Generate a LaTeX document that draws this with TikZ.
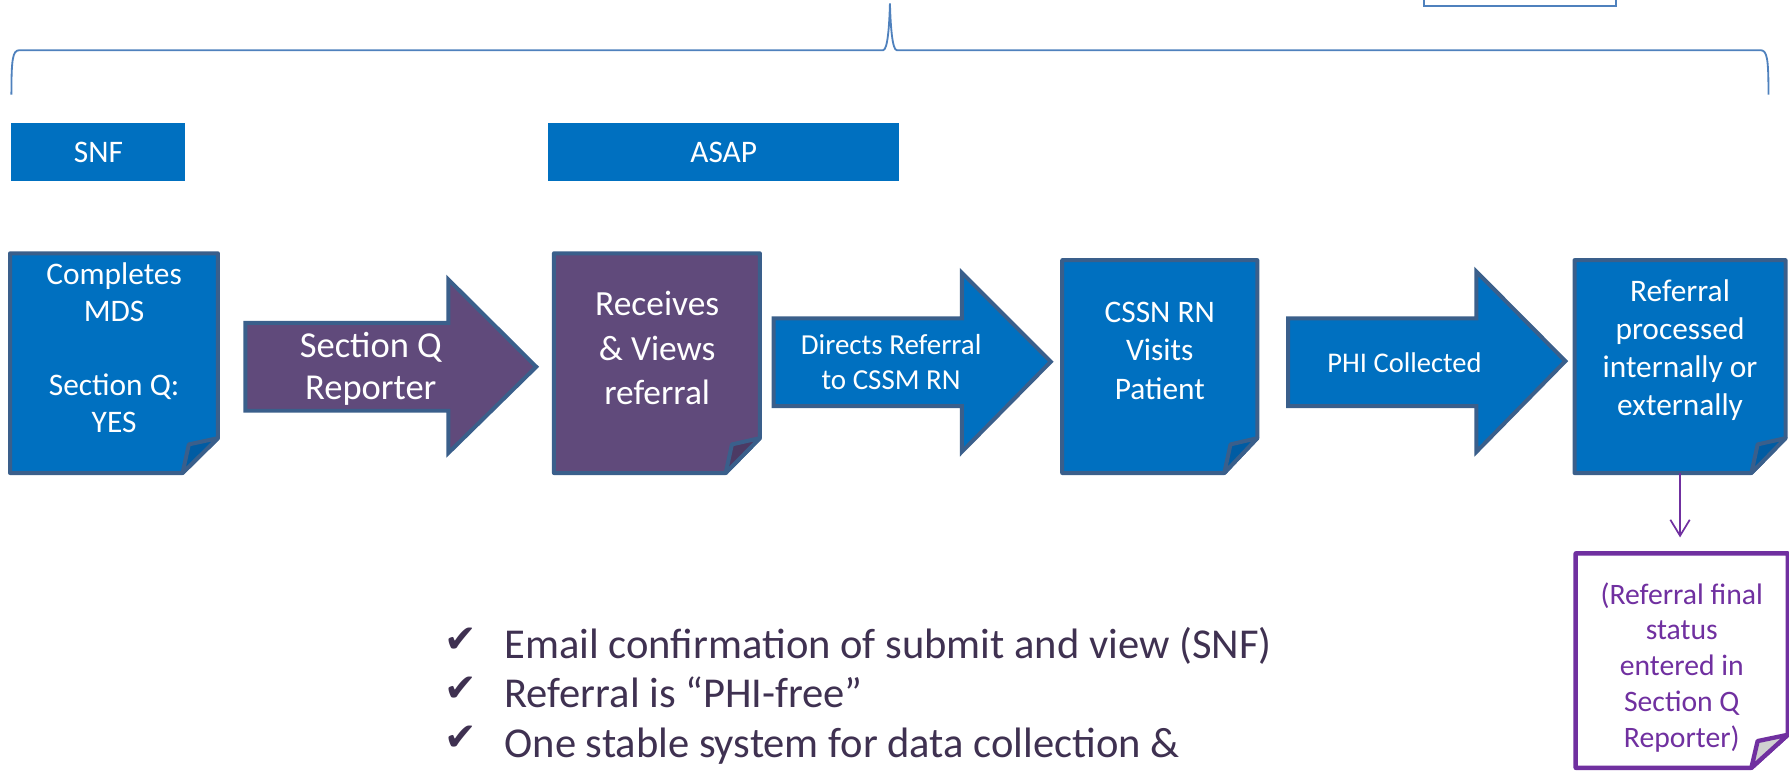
\documentclass[tikz,border=0pt]{standalone}
\usepackage{fontspec}
\setmainfont{Carlito}
\newfontfamily\symfont{DejaVu Sans}
\usetikzlibrary{arrows.meta,backgrounds}
\definecolor{fillblue}{HTML}{0070C0}
\definecolor{edgeblue}{HTML}{3A5F8B}
\definecolor{flapblue}{HTML}{005CA3}
\definecolor{fillpurple}{HTML}{604A7B}
\definecolor{flappurple}{HTML}{4C3A64}
\definecolor{notepurple}{HTML}{7030A0}
\definecolor{flapgray}{HTML}{D0D0D0}
\definecolor{bracecol}{HTML}{4F81BD}
\definecolor{bullettext}{HTML}{3F3151}
\newcommand\docshape[5]{%
  \path[docline,fill=#2] (#1.north west) -- (#1.north east) -- ([yshift=#5pt]#1.south east) -- ([xshift=-#4pt]#1.south east) -- (#1.south west) -- cycle;
  \path[docline,fill=#3] ([yshift=#5pt]#1.south east) -- ([xshift=-#4pt+5.5pt,yshift=#5pt-5.5pt]#1.south east) -- ([xshift=-#4pt]#1.south east) -- cycle;}
\newcommand\blockarrow[8]{% fill, shaft left, shaft top, shaft bottom, head base x, head top, head bottom, tip
  \path[arrowline,fill=#1] (#2,#3) -- (#5,#3) -- (#5,#6) -- #8 -- (#5,#7) -- (#5,#4) -- (#2,#4) -- cycle;}
\begin{document}
\begin{tikzpicture}[x=1pt,y=-1pt,
  geom/.style={rectangle,draw=none,inner sep=0pt,outer sep=0pt},
  docline/.style={draw=edgeblue,line width=3.5pt,line join=round},
  arrowline/.style={draw=edgeblue,line width=3.5pt,line join=miter},
  wtext/.style={text=white,align=center,inner sep=0pt},
  labelbox/.style={geom,fill=fillblue,text=white,font=\fontsize{27.5}{33}\selectfont},
  bullet/.style={anchor=base west,inner sep=0pt,text=bullettext,font=\fontsize{37.3}{43}\selectfont},
  checkmk/.style={anchor=base,inner sep=0pt,text=bullettext,font=\symfont\fontsize{34}{40}\selectfont}]
\useasboundingbox (0,0) rectangle (1568,675);

% top brace
\draw[bracecol,line width=1.6pt]
  (10,83) .. controls (10,52) and (11,44) .. (17,44) -- (774,44)
  .. controls (778,44) and (779.5,22) .. (780,3)
  .. controls (780.5,22) and (782,44) .. (786,44) -- (1543,44)
  .. controls (1549,44) and (1550,52) .. (1550,83);
% partial box at top right
\draw[bracecol,line width=1.6pt] (1248,-6) rectangle (1416,5);

% header labels
\node[labelbox,minimum width=152.5pt,minimum height=51pt] (snf) at (86.3,133.5) {SNF};
\node[labelbox,minimum width=307.5pt,minimum height=51pt] (asap) at (634.3,133.5) {ASAP};

% document nodes (geometry)
\node[geom,minimum width=182.2pt,minimum height=192.6pt] (d1) at (99.9,318.3) {};
\node[geom,minimum width=180.5pt,minimum height=192.6pt] (d2) at (575.75,318.3) {};
\node[geom,minimum width=171pt,minimum height=186.6pt] (d3) at (1016.5,321.3) {};
\node[geom,minimum width=185pt,minimum height=186.6pt] (d4) at (1472.5,321.3) {};
\node[geom,minimum width=186pt,minimum height=188pt] (fin) at (1474,579) {};

\begin{pgfonlayer}{background}
\docshape{d1}{fillblue}{flapblue}{31}{30.6}
\docshape{d2}{fillpurple}{flappurple}{30}{30.6}
\docshape{d3}{fillblue}{flapblue}{29}{30.6}
\docshape{d4}{fillblue}{flapblue}{30}{30.6}
\begin{scope}[docline/.style={draw=notepurple,line width=3.8pt,line join=round}]
\docshape{fin}{white}{flapgray}{32}{29}
\end{scope}
\blockarrow{fillpurple}{215}{283}{360}{393}{245}{397}{(470,321.5)}
\blockarrow{fillblue}{678}{279}{356}{843}{239}{396}{(921,317)}
\blockarrow{fillblue}{1129}{279}{356}{1294}{238}{396}{(1372,316.5)}
\end{pgfonlayer}

% texts
\node[wtext,font=\fontsize{27.5}{32.5}\selectfont] (t1) at (100,305) {Completes\\MDS\\[32.5pt]Section Q:\\YES};
\node[wtext,font=\fontsize{32}{37}\selectfont] (a1) at (325,323.5) {Section Q\\Reporter};
\node[wtext,font=\fontsize{31}{39}\selectfont] (t2) at (576,305) {Receives\\\& Views\\referral};
\node[wtext,font=\fontsize{25.4}{31}\selectfont] (a2) at (781,317.5) {Directs Referral\\to CSSM RN};
\node[wtext,font=\fontsize{27.5}{33.5}\selectfont] (t3) at (1016.5,307.5) {CSSN RN\\Visits\\Patient};
\node[wtext,font=\fontsize{25}{30}\selectfont] (a3) at (1231,318) {PHI Collected};
\node[wtext,font=\fontsize{27.5}{33.3}\selectfont] (t4) at (1472.5,307) {Referral\\processed\\internally or\\externally};
\node[wtext,text=notepurple,font=\fontsize{26}{31.5}\selectfont] (t5) at (1474,585) {(Referral final\\status\\entered in\\Section Q\\Reporter)};

% down connector
\draw[notepurple,line width=1.5pt,-{Straight Barb[length=14pt,width=17pt]},shorten >=14pt] (d4.south) -- (d4.south |- fin.north);

% bullets
\node[checkmk] (c1) at (404,572) {✔};
\node[checkmk] (c2) at (404,615) {✔};
\node[checkmk] (c3) at (404,658) {✔};
\node[bullet] (b1) at (442,577) {Email confirmation of submit and view (SNF)};
\node[bullet] (b2) at (442,620) {Referral is “PHI-free”};
\node[bullet] (b3) at (442,663.5) {One stable system for data collection \&};
\end{tikzpicture}
\end{document}
